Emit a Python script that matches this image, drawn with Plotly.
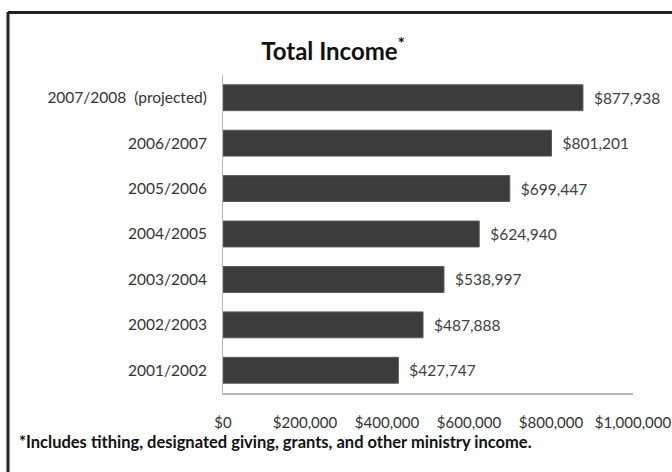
import plotly.graph_objects as go

categories = ["2007/2008  (projected)", "2006/2007", "2005/2006", "2004/2005",
              "2003/2004", "2002/2003", "2001/2002"]
income = [877938, 801201, 699447, 624940, 538997, 487888, 427747]
x_ticks = [0, 200000, 400000, 600000, 800000, 1000000]
title_text = "Total Income<sup>*</sup>"
footnote = "*Includes tithing, designated giving, grants, and other ministry income."

labels = ["$" + f"{v:,}" for v in income]
x_tick_text = ["$" + f"{v:,}" for v in x_ticks]

FONT = "Lato"
W, H = 672, 472
ML, MR, MT, MB = 223, 39, 75, 79
PW, PH = W - ML - MR, H - MT - MB


def px_to_paper_x(px):
    return (px - ML) / PW


def px_to_paper_y(py):
    return (H - MB - py) / PH


fig = go.Figure(go.Bar(
    x=income,
    y=categories,
    orientation="h",
    text=labels,
    texttemplate="  %{text}",
    textposition="outside",
    cliponaxis=False,
    textfont=dict(family=FONT, size=15.5, color="#404040"),
    marker=dict(color="#3c3c3c", line=dict(color="#5a5a5a", width=1)),
    hoverinfo="skip",
))

fig.update_layout(
    width=W, height=H,
    margin=dict(l=ML, r=MR, t=MT, b=MB, autoexpand=False),
    paper_bgcolor="white",
    plot_bgcolor="white",
    bargap=0.43,
    showlegend=False,
    title=dict(
        text=title_text,
        x=333 / W, xref="container", xanchor="center",
        y=1 - 52 / H, yref="container", yanchor="middle",
        font=dict(family=FONT, size=24, color="#111111", weight="bold"),
    ),
    xaxis=dict(
        range=[0, 1000000],
        tickmode="array",
        tickvals=x_ticks,
        ticktext=x_tick_text,
        showgrid=False,
        zeroline=False,
        showline=True,
        linecolor="#b8b8b8",
        linewidth=2,
        ticks="",
        ticklabelstandoff=15,
        tickfont=dict(family=FONT, size=15, color="#333333"),
        fixedrange=True,
    ),
    yaxis=dict(
        categoryorder="array",
        categoryarray=categories[::-1],
        showgrid=False,
        zeroline=False,
        showline=True,
        linecolor="#b8b8b8",
        linewidth=1,
        ticks="",
        ticklabelstandoff=12,
        tickfont=dict(family=FONT, size=15.5, color="#333333"),
        fixedrange=True,
    ),
    annotations=[dict(
        text=footnote,
        xref="paper", yref="paper",
        x=px_to_paper_x(17), y=px_to_paper_y(442),
        xanchor="left", yanchor="middle",
        showarrow=False,
        font=dict(family=FONT, size=16.5, color="#111111", weight="bold"),
    )],
    shapes=[
        dict(type="line", xref="paper", yref="paper",
             x0=px_to_paper_x(8), x1=px_to_paper_x(8),
             y0=px_to_paper_y(12), y1=px_to_paper_y(472),
             line=dict(color="#222222", width=3)),
        dict(type="line", xref="paper", yref="paper",
             x0=px_to_paper_x(8), x1=px_to_paper_x(672),
             y0=px_to_paper_y(12.5), y1=px_to_paper_y(12.5),
             line=dict(color="#222222", width=3)),
    ],
)

fig.write_html("out.html", config=dict(displayModeBar=False))
